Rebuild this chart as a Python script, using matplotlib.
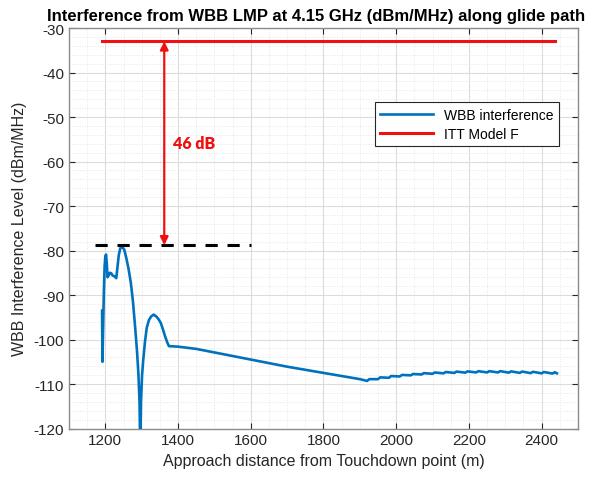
import matplotlib
matplotlib.use('Agg')
import matplotlib.pyplot as plt
from matplotlib.ticker import MultipleLocator

plt.rcParams['font.family'] = ['Liberation Sans', 'DejaVu Sans']
plt.rcParams['axes.unicode_minus'] = False

# WBB interference along glide path
distance = [1191, 1192, 1194, 1196, 1198, 1200, 1202, 1204, 1206, 1209,
            1212, 1216, 1220, 1225, 1230, 1233, 1237, 1241, 1246, 1252,
            1258, 1264, 1270, 1276, 1282, 1287, 1291, 1294, 1296, 1298,
            1301, 1304, 1309, 1314, 1320, 1326, 1333, 1340, 1346, 1352,
            1358, 1364, 1370, 1375, 1380, 1400, 1450, 1500, 1550, 1600,
            1650, 1700, 1750, 1800, 1850, 1900, 1920,
            1926, 1950, 1956, 1980, 1986, 2010, 2016, 2040, 2046, 2070,
            2076, 2100, 2106, 2130, 2136, 2160, 2166, 2190, 2196, 2220,
            2226, 2250, 2256, 2280, 2286, 2310, 2316, 2340, 2346, 2370,
            2376, 2400, 2406, 2430, 2436, 2442]
wbb_level = [-93.5, -105.0, -97.0, -89.0, -83.5, -81.3, -80.9, -83.0, -86.0, -85.6,
             -85.0, -85.1, -85.6, -85.8, -86.2, -84.0, -81.0, -79.5, -79.1, -79.8,
             -81.8, -84.2, -87.2, -91.5, -97.3, -102.5, -107.8, -114.0, -125.0, -114.0,
             -108.0, -104.8, -100.5, -97.3, -95.6, -94.8, -94.4, -94.8, -95.4, -96.2,
             -97.6, -99.2, -100.6, -101.5, -101.5, -101.6, -102.1, -102.9, -103.7, -104.5,
             -105.3, -106.1, -106.8, -107.5, -108.2, -108.9, -109.3,
             -108.9, -108.9, -108.5, -108.6, -108.2, -108.3, -107.95, -108.05, -107.75, -107.85,
             -107.55, -107.7, -107.4, -107.6, -107.3, -107.5, -107.2, -107.45, -107.15, -107.4,
             -107.1, -107.4, -107.1, -107.4, -107.1, -107.45, -107.15, -107.5, -107.2, -107.55,
             -107.25, -107.6, -107.3, -107.65, -107.35, -107.6]

# ITT Model F limit
itt_x = [1191, 2437]
itt_level = [-33, -33]

# peak reference line and margin arrow
peak_x = [1172, 1600]
peak_level = [-78.8, -78.8]
arrow_x = 1362
margin_label = '46 dB'

fig = plt.figure(figsize=(6.01, 4.81), dpi=100)
ax = fig.add_axes([0.1148, 0.107, 0.8469, 0.8326])

ax.plot(distance, wbb_level, color='#0072BD', lw=1.9, label='WBB interference', zorder=3)
ax.plot(itt_x, itt_level, color='#F01010', lw=2.2, label='ITT Model F', zorder=3)
ax.plot(peak_x, peak_level, color='black', lw=2.2, linestyle=(0, (4, 3.2)), zorder=3)

ax.annotate('', xy=(arrow_x, itt_level[0]), xytext=(arrow_x, peak_level[0]),
            arrowprops=dict(arrowstyle='<|-|>', color='#F01010', lw=1.6,
                            mutation_scale=12, shrinkA=0, shrinkB=0), zorder=4)
ax.text(1387, -55.8, margin_label, color='#F01010', fontsize=11.5, fontweight='heavy',
        family=['Lato', 'DejaVu Sans'], ha='left', va='center')

ax.set_xlim(1100, 2500)
ax.set_ylim(-120, -30)
ax.xaxis.set_major_locator(MultipleLocator(200))
ax.xaxis.set_minor_locator(MultipleLocator(50))
ax.yaxis.set_major_locator(MultipleLocator(10))
ax.yaxis.set_minor_locator(MultipleLocator(2))

ax.grid(which='major', color='#DCDCDC', lw=0.8, linestyle='-')
ax.grid(which='minor', color='#E6E6E6', lw=0.7, linestyle=':')
ax.set_axisbelow(True)

ax.tick_params(which='both', direction='in', top=True, right=True,
               labelsize=11, colors='#262626')
ax.tick_params(which='major', length=4)
ax.tick_params(which='minor', length=0)
for sp in ax.spines.values():
    sp.set_color('#8C8C8C')
    sp.set_linewidth(1.0)

ax.set_xlabel('Approach distance from Touchdown point (m)', fontsize=11.5, color='#262626')
ax.set_ylabel('WBB Interference Level (dBm/MHz)', fontsize=11.5, color='#262626', labelpad=5)
ax.set_title('Interference from WBB LMP at 4.15 GHz (dBm/MHz) along glide path',
             fontsize=12, fontweight='bold', pad=6, x=0.485)

leg = ax.legend(loc='upper right', bbox_to_anchor=(0.963, 0.815), borderaxespad=0,
                fontsize=10, handlelength=3.8, fancybox=False, framealpha=1,
                edgecolor='#262626', borderpad=0.4, labelspacing=0.35)
leg.get_frame().set_linewidth(0.8)

fig.savefig('out.png', dpi=100)
